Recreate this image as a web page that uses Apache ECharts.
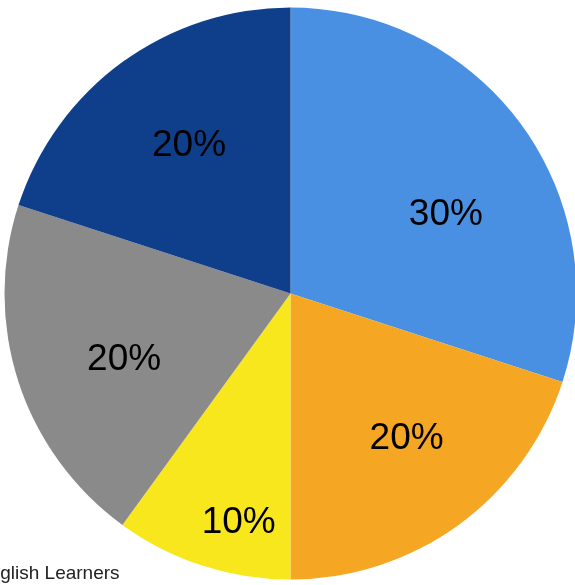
<!DOCTYPE html>
<html>
<head>
<meta charset="utf-8">
<script src="https://cdn.jsdelivr.net/npm/echarts@6/dist/echarts.min.js"></script>
<style>html,body{margin:0;padding:0;background:#fff;}#c{width:575px;height:585px;}</style>
</head>
<body>
<div id="c"></div>
<script>
const categories = ['A', 'B', 'C', 'D', 'E'];
const values = [30, 20, 10, 20, 20];
const colors = ['#4A90E2', '#F5A623', '#F8E71C', '#8A8A8A', '#0F3E8A'];
// label placement: fraction of radius and angular shift (deg) from slice mid-angle
const labelDist = [0.613, 0.641, 0.812, 0.622, 0.636];
const labelShift = [8.4, -3.3, -5.1, -2.7, 2.1];
const legendText = 'English Learners';

const CX = 290.5, CY = 293.5, R = 286;
const total = values.reduce((a, b) => a + b, 0);
const mids = [];
let acc = 0;
values.forEach(v => { mids.push((acc + v / 2) / total * 2 * Math.PI); acc += v; });

const FONT = 'Liberation Sans, Arial, Helvetica, sans-serif';
const chart = echarts.init(document.getElementById('c'));
chart.setOption({
  animation: false,
  series: [{
    type: 'pie',
    center: [CX, CY],
    radius: [0, R],
    startAngle: 90,
    clockwise: true,
    silent: true,
    itemStyle: { borderWidth: 0 },
    label: {
      show: true,
      position: 'inside',
      formatter: '{d}%',
      color: '#000',
      fontSize: 37,
      fontFamily: FONT
    },
    labelLine: { show: false },
    labelLayout: function (p) {
      const i = p.dataIndex;
      const a = mids[i] + labelShift[i] * Math.PI / 180;
      return {
        x: CX + labelDist[i] * R * Math.sin(a),
        y: CY - labelDist[i] * R * Math.cos(a) + 3
      };
    },
    data: categories.map((c, i) => ({ name: c, value: values[i], itemStyle: { color: colors[i] } }))
  }],
  graphic: [{
    type: 'text',
    left: -23,
    top: 564,
    style: { text: legendText, fontSize: 19, fill: '#222', fontFamily: FONT }
  }]
});
</script>
</body>
</html>
